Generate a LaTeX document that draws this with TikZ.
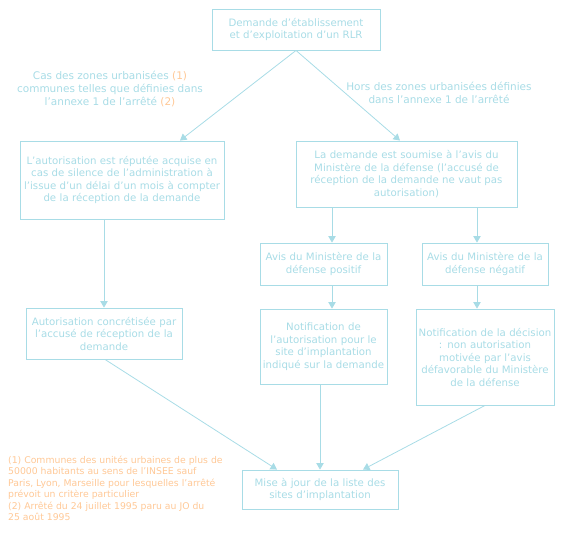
\documentclass[tikz,border=0pt]{standalone}
\usepackage{fontspec}
\setmainfont{DejaVu Sans}
\usetikzlibrary{arrows.meta}
\definecolor{cblue}{RGB}{168,220,230}
\definecolor{corange}{RGB}{255,200,150}
\tikzset{
  boxnode/.style={draw=cblue, line width=0.9pt, text=cblue, inner sep=0pt, align=center,
    font=\fontsize{10.2}{12.5}\selectfont},
  arr/.style={draw=cblue, line width=0.8pt, -{Triangle[length=6.5pt,width=7.5pt]}},
  lbl/.style={text=cblue, align=center, inner sep=0pt, font=\fontsize{10.5}{13}\selectfont},
  note/.style={text=corange, align=left, inner sep=0pt, anchor=north west, font=\fontsize{9.3}{11.5}\selectfont}
}
\begin{document}
\begin{tikzpicture}[x=1pt,y=-1pt]
\useasboundingbox (0,0) rectangle (568,533);
\node[boxnode, minimum width=168pt, minimum height=41pt, text width=168pt] (T) at (296,29.5)
  {Demande d'établissement\\et d'exploitation d'un RLR};
\node[boxnode, minimum width=204pt, minimum height=78pt, text width=204pt] (L) at (122,180)
  {L'autorisation est réputée acquise en\\cas de silence de l'administration à\\l'issue d'un délai d'un mois à compter\\de la réception de la demande};
\node[boxnode, minimum width=221pt, minimum height=66pt, text width=221pt] (R) at (406.5,174)
  {La demande est soumise à l'avis du\\Ministère de la défense (l'accusé de\\réception de la demande ne vaut pas\\autorisation)};
\node[boxnode, minimum width=127pt, minimum height=42pt, text width=127pt] (AP) at (323.5,264)
  {Avis du Ministère de la\\défense positif};
\node[boxnode, minimum width=126pt, minimum height=42pt, text width=126pt] (AN) at (485,264)
  {Avis du Ministère de la\\défense négatif};
\node[boxnode, minimum width=156pt, minimum height=51pt, text width=156pt] (AC) at (104,333.5)
  {Autorisation concrétisée par\\l'accusé de réception de la\\demande};
\node[boxnode, minimum width=127pt, minimum height=75pt, text width=127pt] (NP) at (323.5,346.5)
  {Notification de\\l'autorisation pour le\\site d'implantation\\indiqué sur la demande};
\node[boxnode, minimum width=138pt, minimum height=96pt, text width=138pt] (NN) at (485,357)
  {Notification de la décision\\: non autorisation\\motivée par l'avis\\défavorable du Ministère\\de la défense};
\node[boxnode, minimum width=156pt, minimum height=39pt, text width=156pt] (M) at (320,489.5)
  {Mise à jour de la liste des\\sites d'implantation};
% labels
\node[lbl] (lblL) at (110,89) {Cas des zones urbanisées \textcolor{corange}{(1)}\\communes telles que définies dans\\l'annexe 1 de l'arrêté \textcolor{corange}{(2)}};
\node[lbl] (lblR) at (439,93) {Hors des zones urbanisées définies\\dans l'annexe 1 de l'arrêté};
\node[note] (fn) at (8,455.5) {(1) Communes des unités urbaines de plus de\\50000 habitants au sens de l'INSEE sauf\\Paris, Lyon, Marseille pour lesquelles l'arrêté\\prévoit un critère particulier\\(2) Arrêté du 24 juillet 1995 paru au JO du\\25 août 1995};
% arrows
\draw[arr] (T.south) -- ([xshift=58pt]L.north);
\draw[arr] (T.south) -- ([xshift=-6.5pt]R.north);
\draw[arr] ([xshift=-18pt]L.south) -- ([xshift=-18pt]L.south |- AC.north);
\draw[arr] ([xshift=-74.5pt]R.south) -- ([xshift=-74.5pt]R.south |- AP.north);
\draw[arr] ([xshift=70.5pt]R.south) -- ([xshift=70.5pt]R.south |- AN.north);
\draw[arr] ([xshift=8.5pt]AP.south) -- ([xshift=8.5pt]AP.south |- NP.north);
\draw[arr] ([xshift=-8pt]AN.south) -- ([xshift=-8pt]AN.south |- NN.north);
\draw[arr] ([xshift=1pt]AC.south) -- ([xshift=-43pt]M.north);
\draw[arr] ([xshift=-3.5pt]NP.south) -- (M.north);
\draw[arr] (NN.south) -- ([xshift=43pt]M.north);
\end{tikzpicture}
\end{document}
